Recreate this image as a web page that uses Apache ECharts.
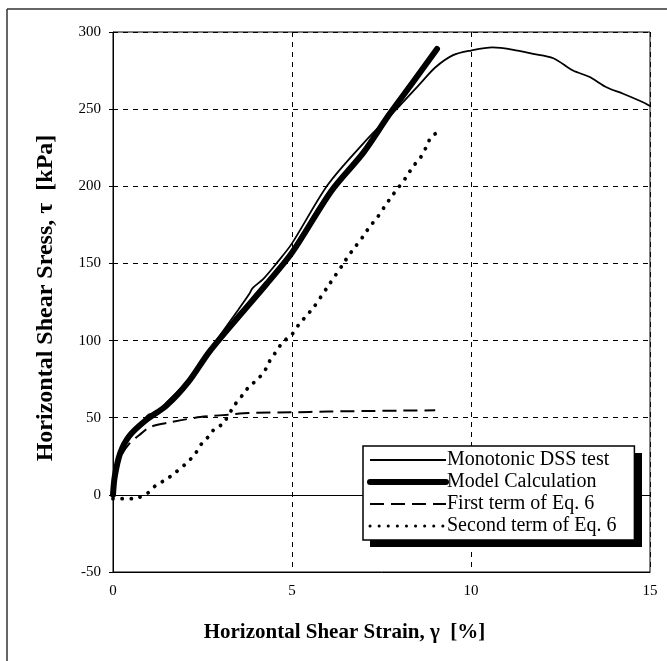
<!DOCTYPE html>
<html>
<head>
<meta charset="utf-8">
<script src="https://cdn.jsdelivr.net/npm/echarts@6/dist/echarts.min.js"></script>
<style>html,body{margin:0;padding:0;background:#fff;}#c{width:667px;height:661px;}</style>
</head>
<body>
<div id="c"></div>
<script>
// ---- data (strain %, stress kPa) ----
const seriesNames = ['Monotonic DSS test', 'Model Calculation', 'First term of Eq. 6', 'Second term of Eq. 6'];
const dssTest = [[0,0],[0.05,14],[0.2,28],[0.45,39],[0.8,47],[1.0,52],[1.2,53],[1.5,60],[2.1,74],[2.7,94],[3.5,120],[3.8,130],[3.9,134],[4.2,140],[4.6,151],[5,163],[6,201],[7,228],[8,252],[8.6,267],[9.0,277],[9.5,285],[10,288],[10.6,290],[11.3,288],[11.7,286],[12.3,283],[12.85,275],[13.3,271],[13.8,264],[14.25,260],[14.85,254],[15,252]];
const modelCalc = [[0,0],[0.05,12],[0.2,27],[0.45,38],[0.9,48],[1.5,58],[2.1,73],[2.7,93],[3.6,118],[4.3,137],[5,157],[6.1,197],[7,222],[7.7,246],[8.3,265],[9.05,289]];
const firstTerm = [[0,0],[0.05,11],[0.2,24],[0.45,33],[0.8,40],[1.03,44],[1.6,47],[2.3,50],[2.7,51],[3.25,52],[3.8,53],[5,53.5],[6,54],[7,54.3],[8,54.6],[9,54.8]];
const secondTerm = [[0,-2.5],[0.6,-2.5],[0.75,-1.5],[0.98,1.3],[1.21,6.4],[1.49,10],[1.77,15],[2.05,20.5],[2.28,26],[2.47,33],[2.7,38.5],[2.84,43],[3.07,46],[3.39,58],[3.63,65],[3.81,70.5],[4.0,74],[4.23,80],[4.37,86.5],[4.56,93],[4.74,99],[5.0,104],[5.2,110.7],[5.44,117],[5.62,122],[6.0,135],[6.41,149],[6.55,154],[6.74,160],[6.97,167],[7.16,173.5],[7.39,180],[7.58,186.6],[7.77,193],[8.0,200],[8.18,205.6],[8.37,212.5],[8.6,219],[8.74,225],[8.88,232],[9.0,234]];
const xTicks = {min: 0, max: 15, interval: 5};
const yTicks = {min: -50, max: 300, interval: 50};
const xTitle = 'Horizontal Shear Strain, \u03b3  [%]';
const yTitle = 'Horizontal Shear Sress, \u03c4  [kPa]';

const serif = '"Liberation Serif", "Times New Roman", serif';
const chart = echarts.init(document.getElementById('c'), null, {renderer: 'canvas'});
const gridDash = {color: '#000', width: 1, type: [5, 5]};

chart.setOption({
  animation: false,
  backgroundColor: '#fff',
  grid: {left: 113, right: 17, top: 32, bottom: 89, show: true, borderColor: '#000', borderWidth: 1, backgroundColor: 'transparent'},
  xAxis: {
    type: 'value', min: xTicks.min, max: xTicks.max, interval: xTicks.interval,
    axisLine: {onZero: false, lineStyle: {color: '#000', width: 1}},
    axisTick: {show: false},
    axisLabel: {color: '#000', fontFamily: serif, fontSize: 15, margin: 12},
    splitLine: {show: true, lineStyle: gridDash},
    name: xTitle, nameLocation: 'middle', nameGap: 50,
    nameTextStyle: {color: '#000', fontFamily: serif, fontWeight: 'bold', fontSize: 21, padding: [0, 74, 0, 0]}
  },
  yAxis: {
    type: 'value', min: yTicks.min, max: yTicks.max, interval: yTicks.interval,
    axisLine: {onZero: false, lineStyle: {color: '#000', width: 1}},
    axisTick: {show: true, length: 4, lineStyle: {color: '#000'}},
    axisLabel: {color: '#000', fontFamily: serif, fontSize: 15, margin: 12},
    splitLine: {show: true, lineStyle: gridDash},
    name: yTitle, nameLocation: 'middle', nameGap: 55,
    nameTextStyle: {color: '#000', fontFamily: serif, fontWeight: 'bold', fontSize: 24, padding: [0, 0, 0, 8]}
  },
  legend: {
    orient: 'vertical', left: 363, top: 446, z: 10,
    data: [
      {name: seriesNames[0], lineStyle: {width: 1.8}},
      {name: seriesNames[1], lineStyle: {width: 6}},
      {name: seriesNames[2], lineStyle: {width: 2}},
      {name: seriesNames[3], lineStyle: {width: 3}}
    ],
    itemStyle: {opacity: 0},
    backgroundColor: '#fff', borderColor: '#000', borderWidth: 1.5,
    padding: [4, 18, 4, 4], itemGap: 2, itemWidth: 76, itemHeight: 16,
    textStyle: {color: '#000', fontFamily: serif, fontSize: 20, lineHeight: 20, padding: [0, 0, 0, -4]}
  },
  series: [
    {name: seriesNames[1], type: 'line', data: modelCalc, symbol: 'none', smooth: 0.3, z: 2,
      lineStyle: {color: '#000', width: 6, cap: 'round', join: 'round'},
      itemStyle: {color: '#000'},
      markLine: {silent: true, symbol: 'none', label: {show: false}, lineStyle: {color: '#000', type: 'solid', width: 1}, data: [{yAxis: 0}]}
    },
    {name: seriesNames[0], type: 'line', data: dssTest, symbol: 'none', smooth: 0.3, z: 3,
      lineStyle: {color: '#000', width: 1.8}, itemStyle: {color: '#000'}},
    {name: seriesNames[2], type: 'line', data: firstTerm, symbol: 'none', smooth: 0.3, z: 3,
      lineStyle: {color: '#000', width: 2, type: [14, 7]}, itemStyle: {color: '#000'}},
    {name: seriesNames[3], type: 'line', data: secondTerm, symbol: 'none', smooth: 0.2, z: 3,
      lineStyle: {color: '#000', width: 3.8, type: [0.1, 9], cap: 'round'}, itemStyle: {color: '#000'}}
  ],
  graphic: [
    {type: 'line', shape: {x1: 7, y1: 9, x2: 667, y2: 9}, style: {stroke: '#333', lineWidth: 1.5}, silent: true},
    {type: 'line', shape: {x1: 7, y1: 9, x2: 7, y2: 661}, style: {stroke: '#333', lineWidth: 1.5}, silent: true},
    // legend drop shadow
    {type: 'rect', z: 5, shape: {x: 370, y: 453, width: 272, height: 94}, style: {fill: '#000'}, silent: true}
  ]
});
</script>
</body>
</html>
